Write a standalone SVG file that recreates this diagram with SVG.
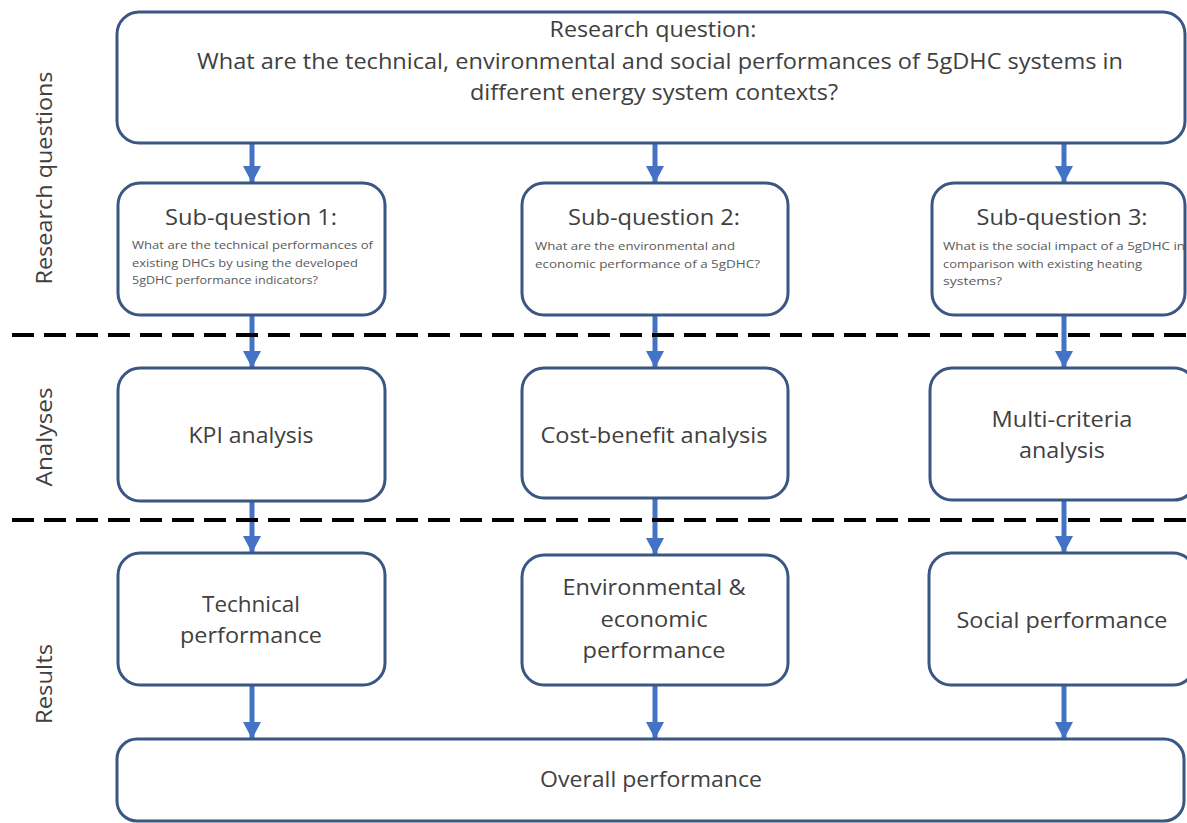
<svg xmlns="http://www.w3.org/2000/svg" width="1187" height="823" viewBox="0 0 1187 823">
  <style>
    .box { fill: #ffffff; stroke: #3a5683; stroke-width: 3; }
    .t { font-family: "Open Sans", "Liberation Sans", sans-serif; fill: #404040; text-anchor: middle; }
    .big { font-size: 21px; }
    .small { font-family: "Open Sans", "Liberation Sans", sans-serif; fill: #595959; font-size: 11.5px; }
    .side { font-family: "Open Sans", "Liberation Sans", sans-serif; fill: #404040; font-size: 21px; text-anchor: middle; }
    .arrow { stroke: #4472c4; stroke-width: 5; fill: none; marker-end: url(#ah); }
    .dash { stroke: #000000; stroke-width: 4; stroke-dasharray: 22 10; fill: none; }
  </style>
  <defs>
    <marker id="ah" markerUnits="userSpaceOnUse" markerWidth="18" markerHeight="18" viewBox="0 0 17 18" refX="17" refY="9" orient="auto">
      <path d="M0,0 L17,9 L0,18 z" fill="#4472c4"/>
    </marker>
  </defs>
  <rect width="1187" height="823" fill="#ffffff"/>

  <!-- row labels -->
  <g id="row-labels">
    <text class="side" transform="translate(52,178) rotate(-90)" textLength="213" lengthAdjust="spacingAndGlyphs">Research questions</text>
    <text class="side" transform="translate(52,437) rotate(-90)" textLength="99" lengthAdjust="spacingAndGlyphs">Analyses</text>
    <text class="side" transform="translate(52,684) rotate(-90)" textLength="80" lengthAdjust="spacingAndGlyphs">Results</text>
  </g>

  <!-- connectors -->
  <g id="connectors">
    <line class="arrow" x1="252" y1="143" x2="252" y2="183"/>
    <line class="arrow" x1="655" y1="143" x2="655" y2="183"/>
    <line class="arrow" x1="1064" y1="143" x2="1064" y2="183"/>
    <line class="arrow" x1="252" y1="315" x2="252" y2="368"/>
    <line class="arrow" x1="655" y1="315" x2="655" y2="368"/>
    <line class="arrow" x1="1064" y1="315" x2="1064" y2="368"/>
    <line class="arrow" x1="252" y1="501" x2="252" y2="553"/>
    <line class="arrow" x1="655" y1="498" x2="655" y2="555"/>
    <line class="arrow" x1="1064" y1="500" x2="1064" y2="553"/>
    <line class="arrow" x1="252" y1="685" x2="252" y2="739"/>
    <line class="arrow" x1="655" y1="685" x2="655" y2="739"/>
    <line class="arrow" x1="1064" y1="685" x2="1064" y2="739"/>
  </g>

  <!-- section separators -->
  <g id="separators">
    <line class="dash" x1="12" y1="335" x2="1187" y2="335"/>
    <line class="dash" x1="12" y1="520" x2="1187" y2="520"/>
  </g>

  <g id="research-question">
    <rect class="box" x="117" y="12" width="1068" height="131" rx="22"/>
    <text class="t big" x="653" y="37" textLength="207" lengthAdjust="spacingAndGlyphs">Research question:</text>
    <text class="t big" x="660" y="69" textLength="926" lengthAdjust="spacingAndGlyphs">What are the technical, environmental and social performances of 5gDHC systems in</text>
    <text class="t big" x="654" y="100" textLength="368" lengthAdjust="spacingAndGlyphs">different energy system contexts?</text>
  </g>

  <g id="sub-question-1">
    <rect class="box" x="118" y="183" width="267" height="132" rx="22"/>
    <text class="t big" x="251" y="225" textLength="172" lengthAdjust="spacingAndGlyphs">Sub-question 1:</text>
    <text class="small" x="132" y="249" textLength="241" lengthAdjust="spacingAndGlyphs">What are the technical performances of</text>
    <text class="small" x="132" y="267" textLength="226" lengthAdjust="spacingAndGlyphs">existing DHCs by using the developed</text>
    <text class="small" x="132" y="284" textLength="186" lengthAdjust="spacingAndGlyphs">5gDHC performance indicators?</text>
  </g>

  <g id="sub-question-2">
    <rect class="box" x="522" y="183" width="266" height="132" rx="22"/>
    <text class="t big" x="654" y="225" textLength="172" lengthAdjust="spacingAndGlyphs">Sub-question 2:</text>
    <text class="small" x="535" y="250" textLength="200" lengthAdjust="spacingAndGlyphs">What are the environmental and</text>
    <text class="small" x="535" y="268" textLength="225" lengthAdjust="spacingAndGlyphs">economic performance of a 5gDHC?</text>
  </g>

  <g id="sub-question-3">
    <rect class="box" x="932" y="183" width="253" height="132" rx="22"/>
    <text class="t big" x="1062" y="225" textLength="171" lengthAdjust="spacingAndGlyphs">Sub-question 3:</text>
    <text class="small" x="943" y="250" textLength="242" lengthAdjust="spacingAndGlyphs">What is the social impact of a 5gDHC in</text>
    <text class="small" x="943" y="268" textLength="199" lengthAdjust="spacingAndGlyphs">comparison with existing heating</text>
    <text class="small" x="943" y="285" textLength="59" lengthAdjust="spacingAndGlyphs">systems?</text>
  </g>

  <g id="kpi-analysis">
    <rect class="box" x="118" y="368" width="267" height="133" rx="22"/>
    <text class="t big" x="251" y="443" textLength="125" lengthAdjust="spacingAndGlyphs">KPI analysis</text>
  </g>

  <g id="cost-benefit-analysis">
    <rect class="box" x="522" y="368" width="266" height="130" rx="22"/>
    <text class="t big" x="654" y="443" textLength="227" lengthAdjust="spacingAndGlyphs">Cost-benefit analysis</text>
  </g>

  <g id="multi-criteria-analysis">
    <rect class="box" x="930" y="368" width="266" height="132" rx="22"/>
    <text class="t big" x="1062" y="427" textLength="141" lengthAdjust="spacingAndGlyphs">Multi-criteria</text>
    <text class="t big" x="1062" y="458" textLength="86" lengthAdjust="spacingAndGlyphs">analysis</text>
  </g>

  <g id="technical-performance">
    <rect class="box" x="118" y="553" width="267" height="132" rx="22"/>
    <text class="t big" x="251" y="612" textLength="98" lengthAdjust="spacingAndGlyphs">Technical</text>
    <text class="t big" x="251" y="643" textLength="142" lengthAdjust="spacingAndGlyphs">performance</text>
  </g>

  <g id="environmental-economic-performance">
    <rect class="box" x="522" y="555" width="266" height="130" rx="22"/>
    <text class="t big" x="654" y="595" textLength="183" lengthAdjust="spacingAndGlyphs">Environmental &amp;</text>
    <text class="t big" x="654" y="627" textLength="107" lengthAdjust="spacingAndGlyphs">economic</text>
    <text class="t big" x="654" y="658" textLength="143" lengthAdjust="spacingAndGlyphs">performance</text>
  </g>

  <g id="social-performance">
    <rect class="box" x="929" y="553" width="266" height="132" rx="22"/>
    <text class="t big" x="1062" y="628" textLength="211" lengthAdjust="spacingAndGlyphs">Social performance</text>
  </g>

  <g id="overall-performance">
    <rect class="box" x="117" y="739" width="1067" height="82" rx="20"/>
    <text class="t big" x="651" y="787" textLength="222" lengthAdjust="spacingAndGlyphs">Overall performance</text>
  </g>
</svg>
